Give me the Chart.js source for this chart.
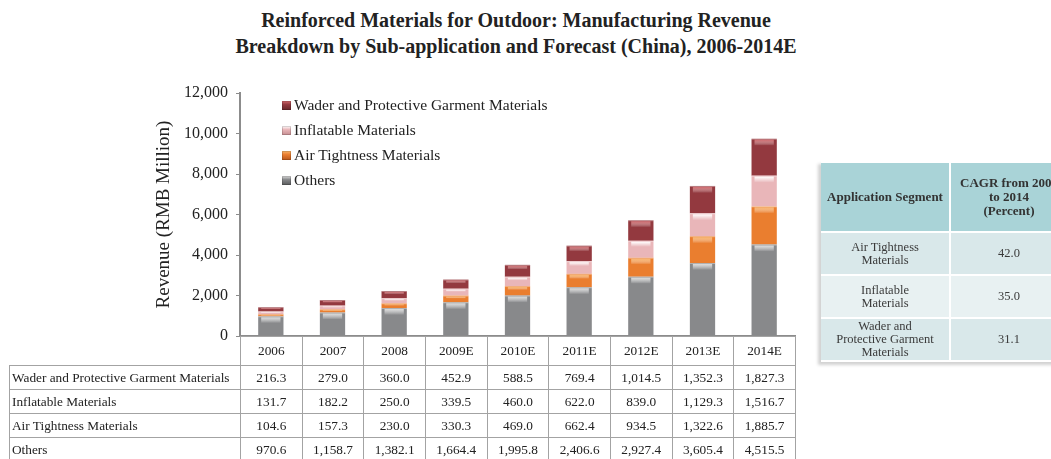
<!DOCTYPE html>
<html>
<head>
<meta charset="utf-8">
<script src="https://cdn.jsdelivr.net/npm/chart.js@4/dist/chart.umd.min.js"></script>
<style>
  html, body { margin:0; padding:0; background:#fff; }
  body { width:1051px; height:459px; overflow:hidden; position:relative; font-family:"Liberation Serif", serif; color:#222; }
  #chartWrap { position:absolute; left:0; top:0; width:1051px; height:459px; }
  #title { position:absolute; left:0; width:1032px; top:7px; text-align:center; font-weight:bold; font-size:20px; line-height:26px; color:#222; }
  #legend { position:absolute; left:282px; top:92px; }
  .lg { height:25px; line-height:25px; font-size:15.5px; white-space:nowrap; color:#222; }
  .lg i { display:inline-block; width:9px; height:9px; margin-right:3px; vertical-align:-0px; box-shadow: inset 0 0 0 1px rgba(0,0,0,0.15); }
  #dataTable { position:absolute; left:9px; top:336px; border-collapse:collapse; table-layout:fixed; font-size:13.3px; }
  #dataTable td { border:1px solid #a3a3a3; text-align:center; padding:0; white-space:nowrap; color:#222; }
  #dataTable td.lab { text-align:left; padding-left:2px; }
  #dataTable tr.hdr td { height:28px; }
  #dataTable tr.body td { height:23px; }
  #dataTable tr.hdr td.blank { border-top:none; border-left:none; }
  #side { position:absolute; left:821px; top:161px; width:246px; border-collapse:separate; border-spacing:0 2px; table-layout:fixed; font-size:12.5px; box-shadow:-3px 3px 3px rgba(0,0,0,0.18); }
  #side th { background:#a9d3d7; font-weight:bold; color:#333; height:68px; padding:0; text-align:center; line-height:14px; font-size:13px; }
  #side td { text-align:center; padding:0; height:41px; line-height:13px; color:#3a3a3a; }
  #side tr.r0 td { background:#d9e8ea; }
  #side tr.r1 td { background:#e8f1f2; }
  #side tr.r2 td { background:#d9e8ea; }
</style>
</head>
<body>
<div id="title">Reinforced Materials for Outdoor: Manufacturing Revenue<br>Breakdown by Sub-application and Forecast (China), 2006-2014E</div>
<div id="chartWrap"><canvas id="c" width="1051" height="459"></canvas></div>
<div id="legend"></div>
<table id="dataTable"></table>
<table id="side"></table>
<script>
const categories = ['2006','2007','2008','2009E','2010E','2011E','2012E','2013E','2014E'];
const seriesNames = ['Wader and Protective Garment Materials','Inflatable Materials','Air Tightness Materials','Others'];
const waderValues = [216.3, 279.0, 360.0, 452.9, 588.5, 769.4, 1014.5, 1352.3, 1827.3];
const inflatableValues = [131.7, 182.2, 250.0, 339.5, 460.0, 622.0, 839.0, 1129.3, 1516.7];
const airTightnessValues = [104.6, 157.3, 230.0, 330.3, 469.0, 662.4, 934.5, 1322.6, 1885.7];
const othersValues = [970.6, 1158.7, 1382.1, 1664.4, 1995.8, 2406.6, 2927.4, 3605.4, 4515.5];
const yTickValues = [0, 2000, 4000, 6000, 8000, 10000, 12000];
const cagrSegments = ['Air Tightness<br>Materials', 'Inflatable<br>Materials', 'Wader and<br>Protective Garment<br>Materials'];
const cagrValues = ['42.0', '35.0', '31.1'];
const cagrHeaders = ['Application Segment', 'CAGR from 2008<br>to 2014<br>(Percent)'];

const palette = {
  'Others':       { edge:'#58595b', mid:'#88898b', hi:'#dcdcdc' },
  'Air Tightness Materials': { edge:'#b9561a', mid:'#ea7e2f', hi:'#f8b46a' },
  'Inflatable Materials':    { edge:'#c48c90', mid:'#e9b6b9', hi:'#ffffff' },
  'Wader and Protective Garment Materials': { edge:'#66262a', mid:'#93393f', hi:'#d2676b' }
};

function barFill(name) {
  return function(ctx) {
    const el = ctx.element;
    const c = ctx.chart.ctx;
    const p = palette[name];
    if (!el || el.x === undefined || isNaN(el.x)) return p.mid;
    const w = el.width || 26;
    const g = c.createLinearGradient(el.x - w/2, 0, el.x + w/2, 0);
    g.addColorStop(0, p.edge);
    g.addColorStop(0.14, p.mid);
    g.addColorStop(0.5, p.mid);
    g.addColorStop(0.86, p.mid);
    g.addColorStop(1, p.edge);
    return g;
  };
}

const seriesData = {
  'Wader and Protective Garment Materials': waderValues,
  'Inflatable Materials': inflatableValues,
  'Air Tightness Materials': airTightnessValues,
  'Others': othersValues
};
const stackOrder = ['Others','Air Tightness Materials','Inflatable Materials','Wader and Protective Garment Materials'];

const datasets = stackOrder.map(n => ({
  label: n,
  data: seriesData[n],
  backgroundColor: barFill(n),
  borderWidth: 0,
  barPercentage: 0.41,
  categoryPercentage: 1.0,
  stack: 's'
}));

const highlightPlugin = {
  id: 'hl',
  afterDatasetsDraw(chart) {
    const c = chart.ctx;
    chart.data.datasets.forEach((ds, i) => {
      const meta = chart.getDatasetMeta(i);
      const p = palette[ds.label];
      meta.data.forEach(el => {
        const w = el.width, h = el.base - el.y;
        const x0 = el.x - w/2 + 3, x1 = el.x + w/2 - 3;
        const hh = Math.min(6, h * 0.3);
        const g = c.createLinearGradient(0, el.y + 1, 0, el.y + 1 + hh);
        g.addColorStop(0, p.hi);
        g.addColorStop(1, 'rgba(255,255,255,0)');
        c.save();
        c.fillStyle = g;
        c.fillRect(x0, el.y + 1, x1 - x0, hh);
        c.fillStyle = 'rgba(255,255,255,0.35)';
        c.fillRect(el.x - w/2, el.y, w, 1);
        c.restore();
      });
    });
  }
};

new Chart(document.getElementById('c'), {
  type: 'bar',
  data: { labels: categories, datasets },
  options: {
    responsive: false,
    animation: false,
    devicePixelRatio: 1,
    layout: { padding: { left: 151, right: 256, top: 93, bottom: 123 } },
    plugins: { legend: { display: false }, tooltip: { enabled: false }, title: { display: false } },
    scales: {
      x: {
        stacked: true,
        offset: true,
        ticks: { display: false },
        grid: { display: false },
        border: { color: '#8c8c8c', width: 2 },
        afterFit(s) { s.height = 0; }
      },
      y: {
        stacked: true,
        min: 0, max: 12000,
        afterBuildTicks(s) { s.ticks = yTickValues.map(v => ({ value: v })); },
        ticks: {
          padding: 8,
          color: '#222',
          font: { family: 'Liberation Serif', size: 16 },
          callback: v => v.toLocaleString('en-US')
        },
        grid: { display: true, drawOnChartArea: false, drawTicks: true, tickLength: 4, color: '#8c8c8c' },
        border: { color: '#8c8c8c', width: 2 },
        title: { display: true, text: 'Revenue (RMB Million)', color: '#222', font: { family: 'Liberation Serif', size: 19 }, padding: { top: 2, bottom: 2 } },
        afterFit(s) { s.width = 89; }
      }
    }
  },
  plugins: [highlightPlugin]
});

// Legend (top-to-bottom order as in reference)
const lg = document.getElementById('legend');
seriesNames.forEach(n => {
  const p = palette[n];
  const d = document.createElement('div');
  d.className = 'lg';
  d.innerHTML = '<i style="background:linear-gradient(to bottom,' + p.hi + ' 0,' + p.mid + ' 40%,' + p.edge + ' 100%)"></i>' + n;
  lg.appendChild(d);
});

// Data table under the chart
const fmt = v => v.toLocaleString('en-US', { minimumFractionDigits: 1, maximumFractionDigits: 1 });
const dt = document.getElementById('dataTable');
let html = '<colgroup><col style="width:231px">' + categories.map(() => '<col style="width:61.67px">').join('') + '</colgroup>';
html += '<tr class="hdr"><td class="blank"></td>' + categories.map(c => '<td>' + c + '</td>').join('') + '</tr>';
seriesNames.forEach(n => {
  html += '<tr class="body"><td class="lab">' + n + '</td>' + seriesData[n].map(v => '<td>' + fmt(v) + '</td>').join('') + '</tr>';
});
dt.innerHTML = html;

// CAGR side table
const st = document.getElementById('side');
let sh = '<colgroup><col style="width:130px"><col style="width:116px"></colgroup>';
sh += '<tr><th style="border-right:2px solid #fff">' + cagrHeaders[0] + '</th><th>' + cagrHeaders[1] + '</th></tr>';
cagrSegments.forEach((s, i) => {
  sh += '<tr class="r' + i + '"><td style="border-right:2px solid #fff">' + s + '</td><td>' + cagrValues[i] + '</td></tr>';
});
st.innerHTML = sh;
</script>
</body>
</html>
